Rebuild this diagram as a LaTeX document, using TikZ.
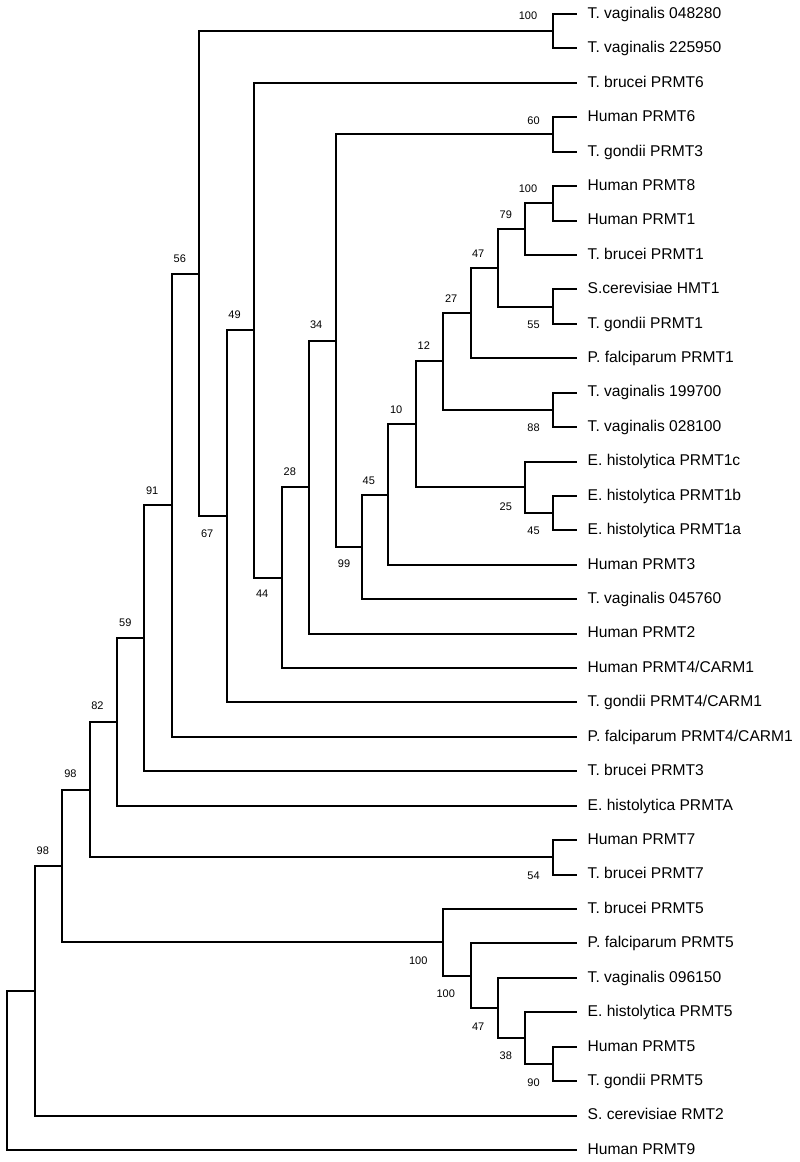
\documentclass[tikz,border=0pt]{standalone}
\usepackage{fontspec}
\setmainfont{Liberation Sans}
\usetikzlibrary{calc}
\begin{document}
\begin{tikzpicture}[x=1pt,y=-1pt,
  br/.style={line width=2pt,line join=miter},
  leaf/.style={anchor=west,inner xsep=10.5pt,inner ysep=0pt,text height=12pt,text depth=3.4pt,font=\fontsize{15.6}{18}\selectfont},
  bs/.style={inner sep=0pt,font=\fontsize{11}{12}\selectfont}]
\useasboundingbox (0,0) rectangle (800,1162);
% leaves
\node[leaf] (l1)  at (577,14)      {T. vaginalis 048280};
\node[leaf] (l2)  at (577,48.42)   {T. vaginalis 225950};
\node[leaf] (l3)  at (577,82.85)   {T. brucei PRMT6};
\node[leaf] (l4)  at (577,117.27)  {Human PRMT6};
\node[leaf] (l5)  at (577,151.70)  {T. gondii PRMT3};
\node[leaf] (l6)  at (577,186.12)  {Human PRMT8};
\node[leaf] (l7)  at (577,220.55)  {Human PRMT1};
\node[leaf] (l8)  at (577,254.97)  {T. brucei PRMT1};
\node[leaf] (l9)  at (577,289.39)  {S.cerevisiae HMT1};
\node[leaf] (l10) at (577,323.82)  {T. gondii PRMT1};
\node[leaf] (l11) at (577,358.24)  {P. falciparum PRMT1};
\node[leaf] (l12) at (577,392.67)  {T. vaginalis 199700};
\node[leaf] (l13) at (577,427.09)  {T. vaginalis 028100};
\node[leaf] (l14) at (577,461.52)  {E. histolytica PRMT1c};
\node[leaf] (l15) at (577,495.94)  {E. histolytica PRMT1b};
\node[leaf] (l16) at (577,530.36)  {E. histolytica PRMT1a};
\node[leaf] (l17) at (577,564.79)  {Human PRMT3};
\node[leaf] (l18) at (577,599.21)  {T. vaginalis 045760};
\node[leaf] (l19) at (577,633.64)  {Human PRMT2};
\node[leaf] (l20) at (577,668.06)  {Human PRMT4/CARM1};
\node[leaf] (l21) at (577,702.48)  {T. gondii PRMT4/CARM1};
\node[leaf] (l22) at (577,736.91)  {P. falciparum PRMT4/CARM1};
\node[leaf] (l23) at (577,771.33)  {T. brucei PRMT3};
\node[leaf] (l24) at (577,805.76)  {E. histolytica PRMTA};
\node[leaf] (l25) at (577,840.18)  {Human PRMT7};
\node[leaf] (l26) at (577,874.61)  {T. brucei PRMT7};
\node[leaf] (l27) at (577,909.03)  {T. brucei PRMT5};
\node[leaf] (l28) at (577,943.45)  {P. falciparum PRMT5};
\node[leaf] (l29) at (577,977.88)  {T. vaginalis 096150};
\node[leaf] (l30) at (577,1012.30) {E. histolytica PRMT5};
\node[leaf] (l31) at (577,1046.73) {Human PRMT5};
\node[leaf] (l32) at (577,1081.15) {T. gondii PRMT5};
\node[leaf] (l33) at (577,1115.58) {S. cerevisiae RMT2};
\node[leaf] (l34) at (577,1150)    {Human PRMT9};
% internal nodes
\coordinate (pA)    at (553,31.21);
\coordinate (pB)    at (553,134.49);
\coordinate (pC)    at (553,203.34);
\coordinate (n79)   at (525.3,229.15);
\coordinate (pD)    at (553,306.61);
\coordinate (n47a)  at (497.7,267.88);
\coordinate (n27)   at (470.7,313.06);
\coordinate (pE)    at (553,409.88);
\coordinate (n12)   at (443.3,361.47);
\coordinate (pF)    at (553,513.15);
\coordinate (n25)   at (525.3,487.33);
\coordinate (n10)   at (415.7,424.40);
\coordinate (n45a)  at (388.3,494.6);
\coordinate (n99)   at (361.5,546.9);
\coordinate (n34)   at (335.7,340.7);
\coordinate (n28)   at (309.3,487.17);
\coordinate (n44)   at (281.7,577.6);
\coordinate (n49)   at (254,330.2);
\coordinate (n67)   at (226.7,516.3);
\coordinate (n56)   at (199.3,273.8);
\coordinate (n91)   at (171.7,505.3);
\coordinate (n59)   at (144.3,638.3);
\coordinate (n82)   at (117,722.0);
\coordinate (pG)    at (553,857.4);
\coordinate (n98a)  at (90,789.7);
\coordinate (pH)    at (553,1063.94);
\coordinate (n38)   at (525.3,1038.12);
\coordinate (n47b)  at (497.7,1008.0);
\coordinate (n100b) at (470.7,975.7);
\coordinate (n100a) at (443.3,942.4);
\coordinate (n98b)  at (62.3,866.05);
\coordinate (nR1)   at (35,990.8);
\coordinate (root)  at (7.3,1070.4);
% branches
\foreach \p/\c in {pA/l1.west,pA/l2.west,pB/l4.west,pB/l5.west,pC/l6.west,pC/l7.west,
  n79/pC,n79/l8.west,pD/l9.west,pD/l10.west,n47a/n79,n47a/pD,n27/n47a,n27/l11.west,
  pE/l12.west,pE/l13.west,n12/n27,n12/pE,pF/l15.west,pF/l16.west,n25/l14.west,n25/pF,
  n10/n12,n10/n25,n45a/n10,n45a/l17.west,n99/n45a,n99/l18.west,n34/pB,n34/n99,
  n28/n34,n28/l19.west,n44/n28,n44/l20.west,n49/l3.west,n49/n44,n67/n49,n67/l21.west,
  n56/pA,n56/n67,n91/n56,n91/l22.west,n59/n91,n59/l23.west,n82/n59,n82/l24.west,
  pG/l25.west,pG/l26.west,n98a/n82,n98a/pG,pH/l31.west,pH/l32.west,n38/l30.west,n38/pH,
  n47b/l29.west,n47b/n38,n100b/l28.west,n100b/n47b,n100a/l27.west,n100a/n100b,
  n98b/n98a,n98b/n100a,nR1/n98b,nR1/l33.west,root/nR1,root/l34.west}
  \draw[br] (\p) |- (\c);
% bootstrap values
\node[bs] (bA)    at ($(pA)+(-25,-15)$)     {100};
\node[bs] (bB)    at ($(pB)+(-19.5,-14)$)   {60};
\node[bs] (bC)    at ($(pC)+(-25,-15)$)     {100};
\node[bs] (b79)   at ($(n79)+(-19.5,-14)$)  {79};
\node[bs] (b47a)  at ($(n47a)+(-19.5,-14.5)$) {47};
\node[bs] (b27)   at ($(n27)+(-19.5,-14.5)$) {27};
\node[bs] (bD)    at ($(pD)+(-19.5,18.5)$)  {55};
\node[bs] (b12)   at ($(n12)+(-19.5,-15.5)$) {12};
\node[bs] (b10)   at ($(n10)+(-19.5,-14.5)$) {10};
\node[bs] (bE)    at ($(pE)+(-19.5,18)$)    {88};
\node[bs] (b45a)  at ($(n45a)+(-19.5,-14)$) {45};
\node[bs] (b25)   at ($(n25)+(-19.5,19)$)   {25};
\node[bs] (bF)    at ($(pF)+(-19.5,17.5)$)  {45};
\node[bs] (b99)   at ($(n99)+(-17.5,16.5)$) {99};
\node[bs] (b34)   at ($(n34)+(-19.5,-15.5)$) {34};
\node[bs] (b28)   at ($(n28)+(-19.5,-15)$)  {28};
\node[bs] (b44)   at ($(n44)+(-19.5,16)$)   {44};
\node[bs] (b49)   at ($(n49)+(-19.5,-15)$)  {49};
\node[bs] (b67)   at ($(n67)+(-19.5,17.5)$) {67};
\node[bs] (b56)   at ($(n56)+(-19.5,-15)$)  {56};
\node[bs] (b91)   at ($(n91)+(-19.5,-15)$)  {91};
\node[bs] (b59)   at ($(n59)+(-19,-15.5)$)  {59};
\node[bs] (b82)   at ($(n82)+(-19.5,-16)$)  {82};
\node[bs] (b98a)  at ($(n98a)+(-19.5,-16)$) {98};
\node[bs] (bG)    at ($(pG)+(-19.5,18)$)    {54};
\node[bs] (b98b)  at ($(n98b)+(-19.5,-15.5)$) {98};
\node[bs] (b100a) at ($(n100a)+(-25,18)$)   {100};
\node[bs] (b100b) at ($(n100b)+(-25,18)$)   {100};
\node[bs] (b47b)  at ($(n47b)+(-19.5,18.5)$) {47};
\node[bs] (b38)   at ($(n38)+(-19.5,18)$)   {38};
\node[bs] (bH)    at ($(pH)+(-19.5,19)$)    {90};
\end{tikzpicture}
\end{document}
